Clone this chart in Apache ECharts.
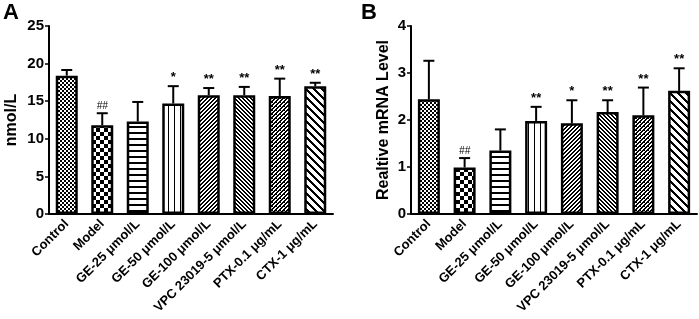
<!DOCTYPE html>
<html>
<head>
<meta charset="utf-8">
<script src="https://cdn.jsdelivr.net/npm/echarts@6/dist/echarts.min.js"></script>
<style>
  html, body { margin: 0; padding: 0; background: #fff; }
  #chart { width: 699px; height: 319px; }
</style>
</head>
<body>
<div id="chart"></div>
<script>
// groups on the x axis (same for both panels)
var categories = ['Control', 'Model', 'GE-25 μmol/L', 'GE-50 μmol/L', 'GE-100 μmol/L', 'VPC 23019-5 μmol/L', 'PTX-0.1 μg/mL', 'CTX-1 μg/mL'];

// panel A : nmol/L
var meanA = [18.4, 11.8, 12.3, 14.7, 15.8, 15.8, 15.7, 17.0];
var upperA = [19.15, 13.4, 14.9, 17.0, 16.75, 16.9, 18.0, 17.45];
var markA = ['', '##', '', '*', '**', '**', '**', '**'];
var ticksA = [0, 5, 10, 15, 20, 25];

// panel B : relative mRNA level
var meanB = [2.44, 0.99, 1.35, 1.98, 1.93, 2.17, 2.10, 2.62];
var upperB = [3.26, 1.19, 1.80, 2.28, 2.42, 2.42, 2.69, 3.10];
var markB = ['', '##', '', '**', '*', '**', '**', '**'];
var ticksB = [0, 1, 2, 3, 4];

var FONT = '"Liberation Sans", Arial, sans-serif';

// fill patterns, one per group
function makePattern(size, on) {
  var c = document.createElement('canvas');
  c.width = size; c.height = size;
  var ctx = c.getContext('2d');
  ctx.fillStyle = '#fff';
  ctx.fillRect(0, 0, size, size);
  ctx.fillStyle = '#000';
  for (var x = 0; x < size; x++) {
    for (var y = 0; y < size; y++) {
      if (on(x, y)) ctx.fillRect(x, y, 1, 1);
    }
  }
  return { image: c, repeat: 'repeat' };
}
function mod(a, n) { return ((a % n) + n) % n; }

var patterns = [
  makePattern(4, function (x, y) { return ((x >> 1) + (y >> 1)) % 2 === 0; }),      // fine check
  makePattern(8, function (x, y) { return ((x >> 2) + (y >> 2)) % 2 === 0; }),      // coarse check
  makePattern(6, function (x, y) { return y % 6 < 2; }),                              // horizontal
  makePattern(6, function (x, y) { return x % 6 < 1; }),                              // vertical
  makePattern(4, function (x, y) { return mod(x + y, 4) < 2; }),                      // "/"
  makePattern(4, function (x, y) { return mod(x - y, 4) < 2; }),                      // "\"
  makePattern(4, function (x, y) { return mod(x + y, 4) < 2 || (x % 4 === 0 && y % 4 === 2); }),
  makePattern(8, function (x, y) { return mod(x - y, 8) < 3; })                       // wide "\"
];

function barData(vals) {
  return vals.map(function (v, i) {
    return { value: v, itemStyle: { color: patterns[i] } };
  });
}
function errData(mean, upper) {
  return mean.map(function (v, i) { return [i, v, upper[i]]; });
}

var markFor = { errA: markA, errB: markB };

function renderErr(params, api) {
  var i = api.value(0);
  var p0 = api.coord([i, api.value(1)]);
  var p1 = api.coord([i, api.value(2)]);
  var mark = markFor[params.seriesId][params.dataIndex];
  var capHalf = 5.5;
  var children = [
    { type: 'line', shape: { x1: p0[0], y1: p0[1], x2: p1[0], y2: p1[1] }, style: { stroke: '#000', lineWidth: 2 } },
    { type: 'line', shape: { x1: p1[0] - capHalf, y1: p1[1], x2: p1[0] + capHalf, y2: p1[1] }, style: { stroke: '#000', lineWidth: 2 } }
  ];
  if (mark) {
    var isHash = mark.charAt(0) === '#';
    children.push({
      type: 'text',
      style: {
        x: p1[0], y: p1[1] - 2,
        text: mark,
        align: 'center', verticalAlign: 'bottom',
        fill: '#000',
        font: (isHash ? 'italic normal 10px ' : 'bold 13px ') + FONT
      }
    });
  }
  return { type: 'group', children: children };
}

function xAxis(idx) {
  return {
    type: 'category', gridIndex: idx, data: categories,
    axisLine: { lineStyle: { color: '#000', width: 2 } },
    axisTick: { alignWithLabel: true, length: 5, lineStyle: { color: '#000', width: 1.5 } },
    axisLabel: { rotate: 45, interval: 0, margin: 8, color: '#000', fontWeight: 'bold', fontSize: 13, fontFamily: FONT }
  };
}
function yAxis(idx, ticks, name, gap) {
  return {
    type: 'value', gridIndex: idx,
    min: ticks[0], max: ticks[ticks.length - 1], interval: ticks[1] - ticks[0],
    name: name, nameLocation: 'middle', nameRotate: 90, nameGap: gap,
    nameTextStyle: { color: '#000', fontWeight: 'bold', fontSize: 16, fontFamily: FONT },
    splitLine: { show: false },
    axisLine: { show: true, lineStyle: { color: '#000', width: 2 } },
    axisTick: { show: true, length: 4, lineStyle: { color: '#000', width: 1.5 } },
    axisLabel: { margin: 5, color: '#000', fontWeight: 'bold', fontSize: 15, fontFamily: FONT }
  };
}
function barSeries(idx, vals) {
  return {
    type: 'bar', xAxisIndex: idx, yAxisIndex: idx, data: barData(vals), barWidth: 22,
    itemStyle: { borderColor: '#000', borderWidth: 2.5 }, silent: true
  };
}
function errSeries(idx, id, mean, upper) {
  return {
    type: 'custom', id: id, xAxisIndex: idx, yAxisIndex: idx, z: 3,
    data: errData(mean, upper), renderItem: renderErr, silent: true, clip: false
  };
}

var chart = echarts.init(document.getElementById('chart'), null, { renderer: 'canvas' });
chart.setOption({
  backgroundColor: '#fff',
  animation: false,
  grid: [
    { left: 49, top: 26, width: 284, height: 188, containLabel: false, outerBoundsMode: 'none' },
    { left: 411, top: 26, width: 286, height: 188, containLabel: false, outerBoundsMode: 'none' }
  ],
  xAxis: [xAxis(0), xAxis(1)],
  yAxis: [yAxis(0, ticksA, 'nmol/L', 29), yAxis(1, ticksB, 'Realtive mRNA Level', 19)],
  graphic: [
    { type: 'text', left: 3, top: 2, style: { text: 'A', fill: '#000', font: 'bold 22px ' + FONT } },
    { type: 'text', left: 361, top: 2, style: { text: 'B', fill: '#000', font: 'bold 22px ' + FONT } }
  ],
  series: [
    barSeries(0, meanA), errSeries(0, 'errA', meanA, upperA),
    barSeries(1, meanB), errSeries(1, 'errB', meanB, upperB)
  ]
});
</script>
</body>
</html>
